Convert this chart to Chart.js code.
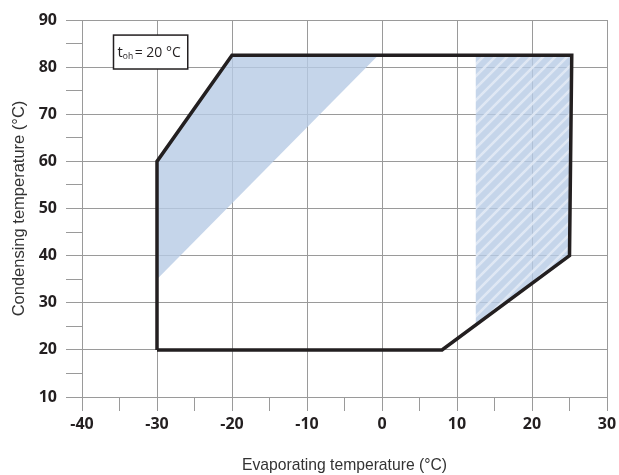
<!DOCTYPE html>
<html>
<head>
<meta charset="utf-8">
<script src="https://cdn.jsdelivr.net/npm/chart.js@4"></script>
<style>
  html, body { margin: 0; padding: 0; background: #fff; }
  #wrap { width: 619px; height: 475px; }
</style>
</head>
<body>
<div id="wrap"><canvas id="envChart" width="619" height="475"></canvas></div>
<script>
// operating envelope (evaporating temp, condensing temp)
const envelopeX = [-30, -30, -20, 25.3, 25, 8, -30];
const envelopeY = [20, 60, 82.5, 82.5, 40, 20, 20];

// shaded area on the left
const shadeX = [-30, -30, -20, -0.5, -30];
const shadeY = [35, 60, 82.5, 82.5, 35];

// hatched area on the right
const hatchX = [12.5, 12.5, 25.3, 25, 12.5];
const hatchY = [25.3, 82.5, 82.5, 40, 25.3];

const xTicks = [-40, -30, -20, -10, 0, 10, 20, 30];
const yTicks = [10, 20, 30, 40, 50, 60, 70, 80, 90];

function toPoints(xs, ys) {
  return xs.map((x, i) => ({ x: x, y: ys[i] }));
}

// diagonal stripe pattern
function makeHatch() {
  const s = 12;
  const c = document.createElement('canvas');
  c.width = s; c.height = s;
  const g = c.getContext('2d');
  g.fillStyle = 'rgba(183,203,229,0.8)';
  g.fillRect(0, 0, s, s);
  g.strokeStyle = 'rgba(228,235,246,0.85)';
  g.lineWidth = 2.5;
  g.beginPath();
  g.moveTo(-s, 2 * s); g.lineTo(2 * s, -s);
  g.moveTo(-s, s); g.lineTo(s, -s);
  g.moveTo(0, 2 * s); g.lineTo(2 * s, 0);
  g.stroke();
  return g.createPattern(c, 'repeat');
}

const gridGrey = '#9a9a9a';
const tickFont = { family: '"Open Sans", "Liberation Sans", sans-serif', size: 16, weight: 'bold' };

const labelBox = {
  id: 'labelBox',
  afterDatasetsDraw(chart) {
    const ctx = chart.ctx;
    const xs = chart.scales.x, ys = chart.scales.y;
    const l = xs.getPixelForValue(-35.8), r = xs.getPixelForValue(-25.9);
    const t = ys.getPixelForValue(86.8), b = ys.getPixelForValue(79.6);
    ctx.save();
    ctx.fillStyle = '#fff';
    ctx.fillRect(l, t, r - l, b - t);
    ctx.strokeStyle = '#231f20';
    ctx.lineWidth = 1.5;
    ctx.strokeRect(l, t, r - l, b - t);
    const base = t + 22;
    let x = l + 4;
    ctx.fillStyle = '#231f20';
    ctx.textBaseline = 'alphabetic';
    ctx.font = '15px "Open Sans", sans-serif';
    ctx.fillText('t', x, base);
    x += ctx.measureText('t').width;
    ctx.font = '8.5px "Open Sans", sans-serif';
    ctx.fillText('oh', x, base + 2);
    x += ctx.measureText('oh').width + 1.5;
    ctx.font = '14px "Open Sans", sans-serif';
    ctx.fillText('= 20 °C', x, base);
    ctx.restore();
  }
};

const ctx = document.getElementById('envChart').getContext('2d');
new Chart(ctx, {
  type: 'line',
  data: {
    datasets: [
      {
        data: toPoints(envelopeX, envelopeY),
        borderColor: '#231f20',
        borderWidth: 3.5,
        borderJoinStyle: 'miter',
        pointRadius: 0,
        fill: false,
        tension: 0,
        order: 0
      },
      {
        data: toPoints(shadeX, shadeY),
        borderWidth: 0,
        borderColor: 'transparent',
        backgroundColor: 'rgba(183,203,229,0.8)',
        pointRadius: 0,
        fill: 'shape',
        tension: 0,
        order: 1
      },
      {
        data: toPoints(hatchX, hatchY),
        borderWidth: 0,
        borderColor: 'transparent',
        backgroundColor: makeHatch(),
        pointRadius: 0,
        fill: 'shape',
        tension: 0,
        order: 2
      }
    ]
  },
  options: {
    responsive: false,
    animation: false,
    layout: { padding: { top: 20, right: 12, left: 0, bottom: 0 } },
    plugins: {
      legend: { display: false },
      tooltip: { enabled: false }
    },
    scales: {
      x: {
        type: 'linear',
        min: -40, max: 30,
        afterFit: (s) => { s.height = 78; s.paddingLeft = 0; s.paddingRight = 0; },
        ticks: {
          stepSize: 5,
          autoSkip: false,
          maxRotation: 0,
          padding: 4,
          color: '#231f20',
          font: tickFont,
          callback: (v) => xTicks.includes(v) ? v : ''
        },
        grid: {
          color: (c) => xTicks.includes(c.tick && c.tick.value) ? gridGrey : 'transparent',
          tickColor: gridGrey,
          tickLength: 14,
          lineWidth: 1
        },
        border: { color: gridGrey, width: 1 },
        title: {
          display: true,
          text: 'Evaporating temperature (°C)',
          color: '#333',
          font: { family: '"Liberation Sans", Arial, sans-serif', size: 15.7 },
          padding: { top: 0, bottom: 0 }
        }
      },
      y: {
        min: 10, max: 90,
        afterFit: (s) => { s.width = 82; s.paddingTop = 0; s.paddingBottom = 0; },
        ticks: {
          stepSize: 5,
          autoSkip: false,
          padding: 9,
          color: '#231f20',
          font: tickFont,
          callback: (v) => yTicks.includes(v) ? v : ''
        },
        grid: {
          color: (c) => yTicks.includes(c.tick && c.tick.value) ? gridGrey : 'transparent',
          tickColor: gridGrey,
          tickLength: 16,
          lineWidth: 1
        },
        border: { color: gridGrey, width: 1 },
        title: {
          display: true,
          text: 'Condensing temperature (°C)',
          color: '#333',
          font: { family: '"Liberation Sans", Arial, sans-serif', size: 16.5 },
          padding: { top: 10, bottom: 0 }
        }
      }
    }
  },
  plugins: [labelBox]
});
</script>
</body>
</html>
